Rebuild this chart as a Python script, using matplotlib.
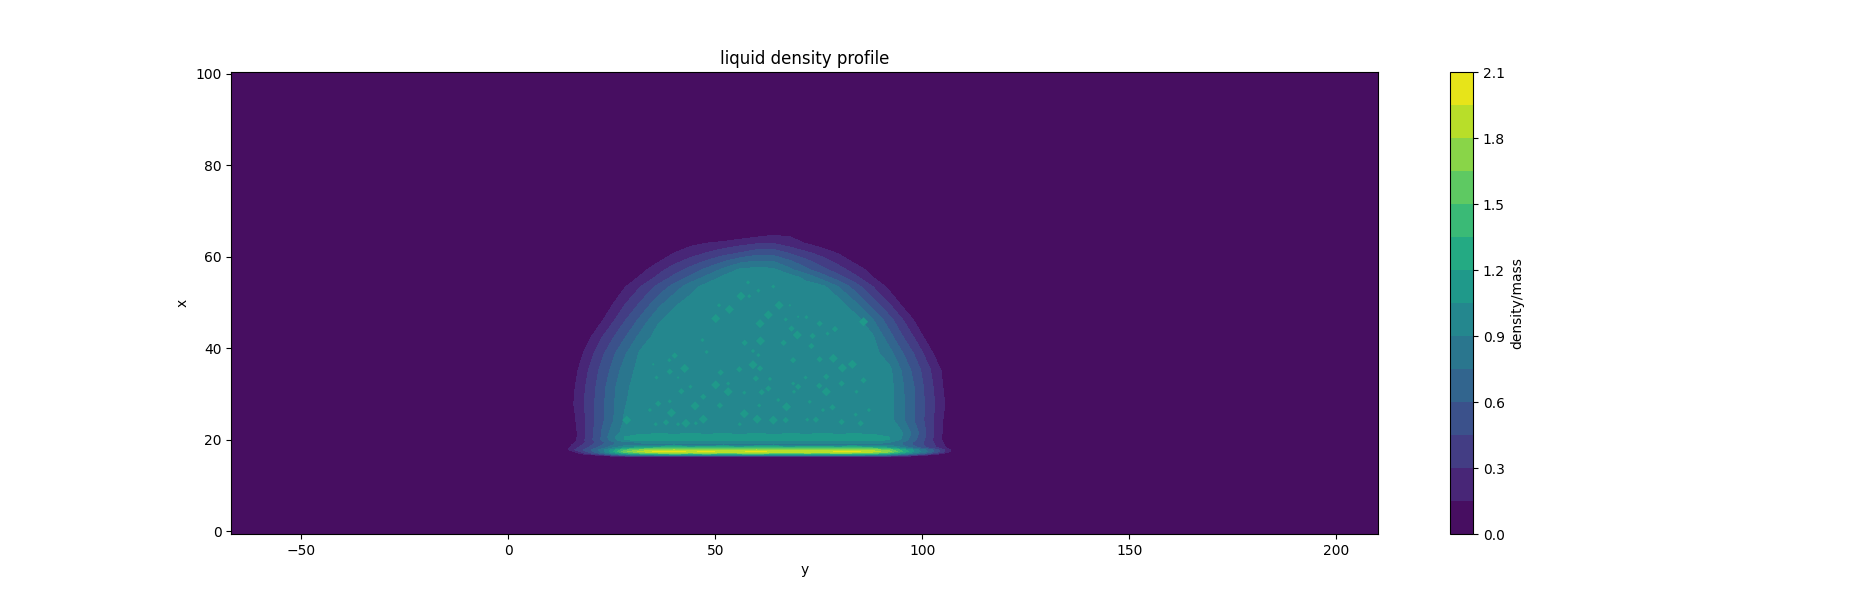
import matplotlib
matplotlib.use('Agg')
import matplotlib.pyplot as plt
import numpy as np

# columns (y) and rows (x) of the density table
GRID_Y = [13, 16, 19, 22, 25, 28, 32, 36, 40, 44, 48, 52, 56, 60, 64, 68, 72, 76, 80, 84, 88, 92,
          95, 98, 101, 104, 107, 110]
GRID_X = [16.3, 16.6, 17.0, 17.4, 17.8, 18.3, 18.9, 19.5, 20.0, 20.6, 21.4, 24.3, 27.9, 31.6,
          35.2, 38.9, 42.5, 46.2, 49.8, 53.5, 55.6, 57.1, 59.0, 60.8, 63.0, 64.4, 66.0]
Y_LIMITS = [-66.9, 210.1]
X_LIMITS = [-0.6, 100.4]

DENSITY = [
    [0] * 28,
    [0, 0, .02, .13, .38, .59, .73, .79, .81, .80, .79, .81, .80, .81, .79, .80, .81, .80, .79, .81, .75, .62, .45, .27, .11, 0, 0, 0],
    [0, .03, .32, .59, .91, 1.2, 1.4, 1.52, 1.58, 1.54, 1.58, 1.52, 1.56, 1.58, 1.54, 1.52, 1.56, 1.54, 1.56, 1.52, 1.46, 1.25, 1.05, .82, .54, .21, 0, 0],
    [0, .15, .45, .75, 1.12, 1.6, 1.85, 2.0, 2.03, 1.92, 2.0, 1.9, 1.92, 2.02, 1.9, 1.88, 1.92, 1.9, 1.98, 1.98, 1.88, 1.72, 1.38, 1.05, .77, .48, .11, 0],
    [0, .30, .51, .77, 1.09, 1.45, 1.65, 1.75, 1.78, 1.75, 1.77, 1.74, 1.76, 1.78, 1.74, 1.75, 1.76, 1.74, 1.77, 1.76, 1.72, 1.55, 1.3, 1.0, .73, .45, .13, 0],
    [0, .24, .43, .62, .84, 1.02, 1.18, 1.28, 1.3, 1.28, 1.3, 1.29, 1.28, 1.3, 1.29, 1.28, 1.3, 1.29, 1.28, 1.3, 1.26, 1.08, .91, .66, .45, .26, .05, 0],
    [0, .19, .36, .56, .73, .84, .86, .86, .87, .86, .85, .87, .86, .86, .87, .86, .85, .86, .87, .86, .86, .86, .75, .58, .41, .24, .03, 0],
    [0, .13, .32, .51, .71, .86, .92, .96, .97, .96, .97, .96, .95, .97, .96, .97, .96, .96, .97, .96, .95, .91, .77, .58, .41, .21, .02, 0],
    [0, .12, .34, .58, .81, 1.05, 1.1, 1.11, 1.12, 1.11, 1.12, 1.11, 1.12, 1.11, 1.12, 1.11, 1.12, 1.11, 1.12, 1.11, 1.11, 1.05, .88, .64, .41, .19, 0, 0],
    [0, .10, .32, .56, .84, 1.05, 1.11, 1.12, 1.13, 1.12, 1.13, 1.12, 1.12, 1.13, 1.12, 1.12, 1.13, 1.12, 1.13, 1.12, 1.11, 1.05, .90, .66, .43, .19, 0, 0],
    [0, .10, .33, .57, .80, .96, 1.03, 1.04, 1.03, 1.04, 1.03, 1.04, 1.03, 1.04, 1.03, 1.04, 1.03, 1.04, 1.03, 1.04, 1.03, 1.02, .92, .69, .44, .20, 0, 0],
    [0, .13, .32, .52, .72, .91, .96, .975, .985, .96, .975, .95, .985, .96, .975, .96, .985, .975, .95, .975, .96, .96, .79, .60, .41, .21, .02, 0],
    [0, .16, .34, .52, .71, .89, .96, .975, .96, .985, .975, .96, .985, .975, .96, .985, .975, .96, .975, .985, .975, .96, .79, .61, .42, .24, .05, 0],
    [0, .14, .32, .50, .69, .87, .96, .975, .985, .96, .975, .96, .985, .975, .96, .975, .985, .96, .975, .96, .985, .96, .78, .60, .40, .21, .02, 0],
    [0, .10, .28, .46, .63, .81, .96, .975, .96, .985, .975, .96, .975, .985, .96, .975, .96, .985, .975, .96, .975, .94, .74, .55, .36, .18, .01, 0],
    [0, .03, .20, .38, .55, .72, .93, .975, .985, .96, .975, .985, .96, .975, .985, .96, .975, .96, .985, .975, .96, .81, .62, .44, .25, .06, 0, 0],
    [0, 0, .09, .26, .42, .58, .80, .96, .975, .985, .96, .975, .985, .96, .975, .96, .985, .975, .96, .975, .92, .66, .47, .29, .10, 0, 0, 0],
    [0, 0, 0, .10, .26, .43, .64, .87, .96, .975, .985, .96, .975, .96, .985, .975, .96, .985, .975, .96, .76, .51, .32, .14, 0, 0, 0, 0],
    [0, 0, 0, 0, .13, .28, .47, .68, .87, .96, .975, .985, .96, .975, .96, .985, .975, .96, .96, .76, .52, .30, .12, 0, 0, 0, 0, 0],
    [0, 0, 0, 0, 0, .13, .30, .48, .65, .84, .96, .975, .96, .985, .975, .96, .975, .93, .73, .51, .30, .10, 0, 0, 0, 0, 0, 0],
    [0, 0, 0, 0, 0, .02, .17, .32, .48, .63, .78, .93, .96, .975, .96, .96, .84, .66, .49, .32, .15, 0, 0, 0, 0, 0, 0, 0],
    [0, 0, 0, 0, 0, 0, .10, .24, .38, .51, .65, .79, .93, .96, .94, .79, .64, .50, .36, .23, .09, 0, 0, 0, 0, 0, 0, 0],
    [0, 0, 0, 0, 0, 0, .02, .13, .25, .36, .47, .59, .71, .76, .75, .62, .49, .36, .24, .11, 0, 0, 0, 0, 0, 0, 0, 0],
    [0, 0, 0, 0, 0, 0, 0, .08, .15, .23, .31, .39, .46, .54, .54, .44, .33, .24, .13, .03, 0, 0, 0, 0, 0, 0, 0, 0],
    [0, 0, 0, 0, 0, 0, 0, 0, .06, .11, .15, .19, .24, .28, .29, .21, .14, .05, 0, 0, 0, 0, 0, 0, 0, 0, 0, 0],
    [0, 0, 0, 0, 0, 0, 0, 0, 0, 0, 0, .03, .09, .14, .18, .15, .08, 0, 0, 0, 0, 0, 0, 0, 0, 0, 0, 0],
    [0] * 28,
]

# small denser spots inside the drop
SPOT_Y = [57.9, 60.4, 64.0, 56.2, 58.2, 50.9, 53.4, 65.4, 68.0, 62.8, 60.8, 50.1, 67.0, 72.0, 70.0, 75.2,
          78.9, 85.8, 68.4, 69.8, 73.5, 77.1, 46.9, 60.9, 57.1, 66.5, 73.2, 47.9, 59.1, 60.4, 40.2, 38.9,
          78.5, 75.2, 68.8, 83.1, 59.1, 60.8, 80.7, 42.6, 39.0, 55.8, 51.3, 35.0, 35.8, 41.0, 76.8, 71.8,
          59.8, 63.2, 85.8, 80.5, 50.1, 53.1, 68.8, 70.0, 75.1, 76.8, 44.0, 53.1, 41.8, 61.2, 62.8, 69.0,
          57.0, 84.1, 47.1, 36.2, 39.0, 45.1, 51.1, 65.2, 67.2, 60.6, 72.8, 78.3, 34.2, 39.4, 57.0, 76.0,
          83.9, 87.1, 47.1, 60.1, 64.0, 67.0, 74.3, 72.2, 28.6, 85.1, 80.5, 38.1, 42.9, 41.0, 45.3, 35.6,
          55.9]
SPOT_X = [54.4, 52.6, 53.5, 51.4, 51.4, 49.4, 48.5, 49.4, 49.4, 47.3, 45.4, 46.5, 46.3, 46.8, 46.9, 45.4,
          44.2, 45.8, 44.3, 42.9, 42.7, 43.2, 41.8, 41.6, 41.2, 41.2, 40.5, 39.2, 39.4, 38.5, 38.4, 37.4,
          37.8, 37.6, 37.4, 36.5, 36.4, 35.6, 35.7, 35.6, 34.9, 35.4, 34.7, 36.5, 33.6, 33.6, 33.8, 33.6,
          33.4, 33.3, 33.0, 32.3, 32.0, 32.3, 32.3, 31.6, 31.8, 30.5, 31.6, 30.5, 30.6, 30.4, 31.2, 30.5,
          30.3, 30.5, 29.4, 27.9, 28.4, 27.4, 27.5, 28.7, 27.2, 27.5, 28.3, 27.1, 26.5, 25.9, 25.7, 26.5,
          25.5, 26.5, 24.5, 24.5, 24.3, 24.3, 24.4, 24.4, 24.3, 23.6, 23.9, 23.8, 23.6, 23.4, 23.6, 23.4,
          23.4]
SPOT_DENSITY = [1.08, 1.08, 1.08, 1.115, 1.08, 1.08, 1.115, 1.115, 1.07, 1.115, 1.115, 1.115, 1.08, 1.08, 1.07, 1.095,
                1.095, 1.115, 1.095, 1.115, 1.095, 1.08, 1.08, 1.115, 1.095, 1.095, 1.095, 1.08, 1.08, 1.08, 1.095, 1.08,
                1.115, 1.095, 1.095, 1.115, 1.115, 1.095, 1.115, 1.115, 1.095, 1.095, 1.095, 1.07, 1.08, 1.07, 1.095, 1.08,
                1.095, 1.08, 1.095, 1.095, 1.115, 1.08, 1.08, 1.095, 1.095, 1.115, 1.08, 1.115, 1.095, 1.095, 1.095, 1.08,
                1.08, 1.08, 1.095, 1.095, 1.08, 1.115, 1.095, 1.08, 1.115, 1.08, 1.08, 1.095, 1.08, 1.115, 1.115, 1.08,
                1.08, 1.08, 1.115, 1.115, 1.115, 1.095, 1.095, 1.08, 1.115, 1.095, 1.095, 1.095, 1.115, 1.08, 1.08, 1.08,
                1.08]

LEVELS = np.linspace(0, 2.1, 15)

grid_y = np.array(Y_LIMITS[:1] + GRID_Y + Y_LIMITS[1:])
grid_x = np.array(X_LIMITS[:1] + GRID_X + X_LIMITS[1:])
density = np.pad(np.array(DENSITY, dtype=float), 1)

fig, ax = plt.subplots(figsize=(18.5, 6), dpi=100)
cs = ax.contourf(grid_y, grid_x, density, levels=LEVELS)

# spots sit in the band above the bulk, size follows how far they rise above it
spot_density = np.array(SPOT_DENSITY)
spot_size = (72 * (spot_density - 1.05)) ** 2
ax.scatter(SPOT_Y, SPOT_X, s=spot_size, marker='D', linewidths=0,
           color=cs.cmap(cs.norm(1.125)), zorder=3)

ax.set_xlim(Y_LIMITS)
ax.set_ylim(X_LIMITS)
ax.set_title('liquid density profile')
ax.set_xlabel('y')
ax.set_ylabel('x')

cbar = fig.colorbar(cs, ax=ax)
cbar.set_label('density/mass')

plt.savefig('out.png')
